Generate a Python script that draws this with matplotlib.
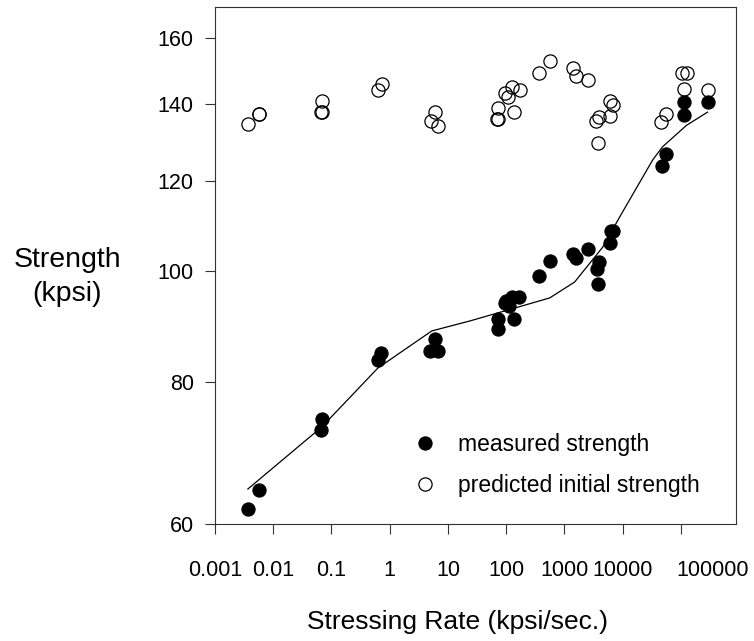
import matplotlib
matplotlib.use('Agg')
import matplotlib.pyplot as plt
import matplotlib.transforms as mtransforms

plt.rcParams['font.family'] = ['Liberation Sans', 'DejaVu Sans']

# measured strength (filled circles)
meas_rate = [0.0037, 0.0057, 0.068, 0.066, 0.70, 0.63, 5.9, 4.9, 6.7,
             71, 71, 94, 100, 110, 124, 135, 163, 361, 557, 1380, 1550, 2500,
             3560, 3710, 3860, 6170, 6300, 6700, 46500, 54500,
             111000, 111000, 286000]
meas_strength = [61.8, 64.3, 74.2, 72.5, 84.7, 83.5, 87.2, 85.1, 85.1,
                 88.9, 90.8, 93.7, 94.1, 93.2, 94.9, 90.8, 94.9, 98.9, 102.0,
                 103.5, 102.7, 104.5, 100.4, 97.4, 101.8, 105.8, 108.3, 108.5,
                 123.6, 126.7, 140.6, 137.0, 140.6]

# predicted initial strength (open circles)
pred_rate = [0.0037, 0.0057, 0.0058, 0.066, 0.069, 0.068, 0.73, 0.625,
             5.94, 5.07, 6.68, 70, 73, 71.5, 135, 94, 124, 106, 170,
             361, 557, 1380, 1550, 2500, 6170, 6760, 6170, 3860, 3430, 3710,
             54500, 44700, 106000, 125000, 111000, 286000]
pred_strength = [134.5, 137.2, 137.4, 137.8, 137.8, 140.9, 145.8, 144.1,
                 137.8, 135.3, 134.0, 135.9, 135.9, 138.9, 137.8, 143.2, 145.0,
                 142.0, 144.1, 149.1, 152.8, 150.6, 148.2, 147.0, 140.9, 139.7,
                 136.7, 136.4, 135.5, 129.5, 137.2, 135.1, 149.1, 149.1, 144.4,
                 144.1]

# fitted curve
fit_rate = [0.00368, 0.0684, 0.625, 5.27, 23.7, 557, 1496, 4520, 8850,
            32600, 48300, 124700, 285800]
fit_strength = [64.4, 73.0, 82.2, 88.6, 90.4, 94.7, 97.8, 104.9, 111.5,
                125.1, 128.5, 134.2, 137.8]

x_ticks = [0.001, 0.01, 0.1, 1, 10, 100, 1000, 10000, 100000]
x_tick_labels = ['0.001', '0.01', '0.1', '1', '10', '100', '1000', '10000', '100000']
y_ticks = [60, 80, 100, 120, 140, 160]

fig = plt.figure(figsize=(7.54, 6.41), dpi=100)
ax = fig.add_axes([0.2851, 0.1825, 0.6910, 0.8066])

ax.plot(fit_rate, fit_strength, color='black', lw=0.9, zorder=2)
ax.plot(meas_rate, meas_strength, 'o', color='black', ms=9.5, mew=0.8,
        label='measured strength', zorder=3)
ax.plot(pred_rate, pred_strength, 'o', mfc='none', mec='black', ms=9.5,
        mew=0.9, label='predicted initial strength', zorder=3)

ax.set_xscale('log')
ax.set_yscale('log')
ax.set_xlim(0.001, 8.8e5)
ax.set_ylim(60, 170.4)

ax.set_xticks(x_ticks)
ax.set_xticklabels(x_tick_labels)
ax.xaxis.set_minor_locator(matplotlib.ticker.NullLocator())
ax.set_yticks(y_ticks)
ax.set_yticklabels([str(v) for v in y_ticks])
ax.yaxis.set_minor_locator(matplotlib.ticker.NullLocator())

ax.tick_params(axis='both', direction='out', length=7.2, width=0.8,
               labelsize=15.5, color='#333333')
ax.tick_params(axis='x', pad=19)
ax.tick_params(axis='y', pad=8)

# last label sits to the right of its tick in the original
lab = ax.get_xticklabels()[-1]
lab.set_transform(lab.get_transform() +
                  mtransforms.ScaledTranslation(32 / 100, 0, fig.dpi_scale_trans))

for s in ax.spines.values():
    s.set_linewidth(0.8)
    s.set_color('#333333')

ax.set_xlabel('Stressing Rate (kpsi/sec.)', fontsize=19)
ax.xaxis.set_label_coords(0.466, -0.19)
ax.xaxis.label.set_va('center')
ax.set_ylabel('Strength\n(kpsi)', fontsize=20.5, rotation=0,
              ha='center', va='center', multialignment='center',
              linespacing=1.38)
ax.yaxis.set_label_coords(-0.284, 0.478)

ax.legend(loc='center left', bbox_to_anchor=(0.381, 0.114), frameon=False,
          fontsize=16.5, handlelength=1.0, handletextpad=0.95,
          borderpad=0, borderaxespad=0, labelspacing=0.78, markerscale=1.0)

fig.savefig('out.png', dpi=100)
